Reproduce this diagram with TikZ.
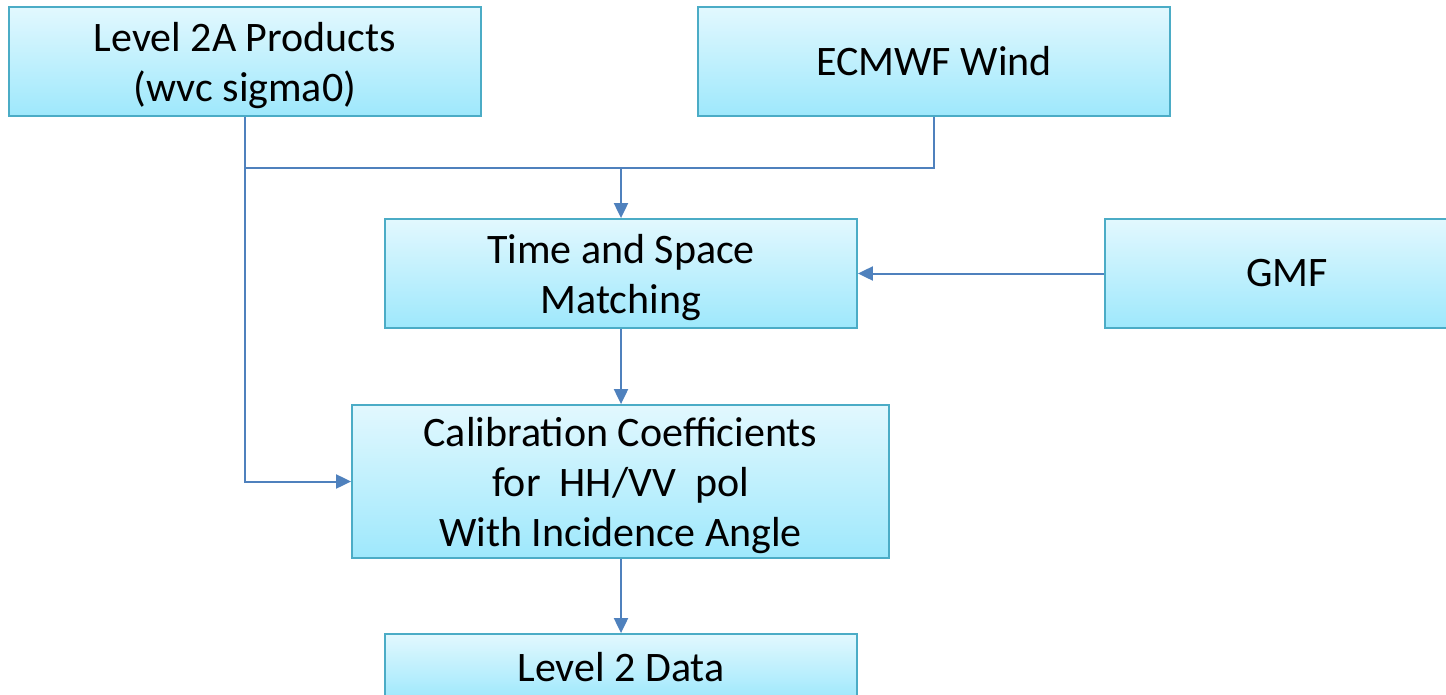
\documentclass[tikz,border=0pt]{standalone}
\usepackage{fontspec}
\setmainfont{Carlito}
\usetikzlibrary{arrows.meta}
\definecolor{bord}{RGB}{75,172,198}
\definecolor{topc}{RGB}{226,248,254}
\definecolor{botc}{RGB}{158,232,252}
\definecolor{arrowc}{RGB}{79,129,189}
\begin{document}
\begin{tikzpicture}[x=1pt,y=-1pt,
  txt/.style={inner sep=0pt, align=center, font=\fontsize{42}{50}\selectfont},
  box/.style={txt, draw=bord, line width=1.8pt, top color=topc, bottom color=botc},
  conn/.style={draw=arrowc, line width=2pt},
  arr/.style={conn,-{Triangle[length=15pt,width=14pt]}}]
\useasboundingbox (0,0) rectangle (1446,694);
\clip (0,0) rectangle (1446,694);
\node[box, minimum width=472pt, minimum height=109pt] (l2a) at (245,61.5) {};
\node[txt] (l2at) at ([yshift=-4pt]l2a.center) {Level 2A Products\\(wvc sigma0)};
\node[box, minimum width=472pt, minimum height=109pt] (ecmwf) at (934,61.5) {ECMWF Wind};
\node[box, minimum width=472pt, minimum height=109pt] (time) at (621,273.5) {};
\node[txt] (timet) at ([yshift=-4pt]time.center) {Time and Space\\Matching};
\node[box, minimum width=364pt, minimum height=109pt] (gmf) at (1287,273.5) {GMF};
\node[box, minimum width=537pt, minimum height=153pt] (calib) at (620.5,481.5) {};
\node[txt] (calibt) at ([yshift=-4pt]calib.center) {Calibration Coefficients\\for\ \ HH/VV\ \ pol\\With Incidence Angle};
\node[box, minimum width=472pt, minimum height=66pt] (l2d) at (621,667) {Level 2 Data};
\coordinate (j) at (621,168);
\draw[conn] (l2a.south) -- (l2a.south |- j) -- (ecmwf.south |- j) -- (ecmwf.south);
\draw[arr] (j) -- (time.north);
\draw[arr] (l2a.south |- j) |- (calib.west);
\draw[arr] (gmf.west) -- (time.east);
\draw[arr] (time.south) -- (time.south |- calib.north);
\draw[arr] (time.south |- calib.south) -- (l2d.north);
\end{tikzpicture}
\end{document}
